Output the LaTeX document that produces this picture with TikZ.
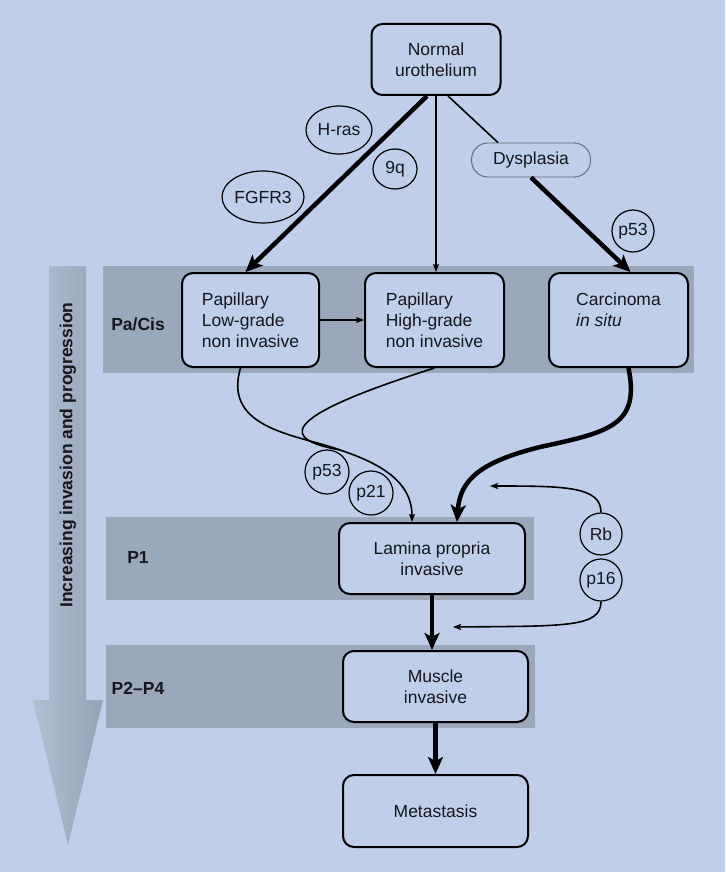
\documentclass[tikz,border=0pt]{standalone}
\usepackage{fontspec}
\setmainfont{Liberation Sans}
\usepackage{xcolor}
\definecolor{bgcolor}{RGB}{191,207,233}
\definecolor{bandcolor}{RGB}{155,168,185}
\definecolor{textcolor}{RGB}{22,22,28}
\definecolor{arrowlight}{RGB}{178,191,210}
\definecolor{arrowdark}{RGB}{150,163,181}
\definecolor{outlinegray}{RGB}{95,102,115}
\usetikzlibrary{arrows.meta,calc,shapes.geometric}

\begin{document}
\begin{tikzpicture}[x=1pt, y=-1pt,
  every node/.style={text=textcolor, font=\fontsize{17.5}{21}\selectfont},
  stage/.style={draw=black, line width=2pt, fill=bgcolor, rounded corners=11pt, align=left, inner sep=0pt},
  gene/.style={draw=black, line width=1.2pt, ellipse, inner sep=0pt},
  lbl/.style={font=\fontsize{17.5}{21}\selectfont\bfseries},
  thickarrow/.style={line width=4.5pt, -{Stealth[length=17pt, width=15pt, inset=4pt]}},
  thinarrow/.style={line width=1.6pt, -{Stealth[length=8pt, width=6pt, inset=1.5pt]}}]
  \fill[bgcolor] (0,0) rectangle (725,872);
  \useasboundingbox (0,0) rectangle (725,872);
  \fill[bandcolor] (103,266) rectangle (694,373);
  \fill[bandcolor] (106,517) rectangle (534,600);
  \fill[bandcolor] (106,645) rectangle (535,728);
  \shade[left color=arrowlight, right color=arrowdark] (49,266) -- (86,266) -- (86,700) -- (103,700) -- (68,845) -- (33,700) -- (49,700) -- cycle;
  \node[lbl, rotate=90] (axis) at (68,455) {Increasing invasion and progression};
  \node[lbl] (pacis) at (138,324) {Pa/Cis};
  \node[lbl] (pone) at (138,557) {P1};
  \node[lbl] (ptwo) at (138,688) {P2--P4};

  \node[stage, align=center, minimum width=129, minimum height=71] (normal) at (436,59.5) {Normal\\urothelium};
  \node[stage, minimum width=137, minimum height=94] (lg) at (250.5,320) {Papillary\\Low-grade\\non invasive};
  \node[stage, minimum width=139, minimum height=94] (hg) at (434.5,320) {Papillary\\High-grade\\non invasive};
  \node[stage, minimum width=139, minimum height=94] (cis) at (618.5,320) {Carcinoma\\\textit{in situ}\\\mbox{}};
  \node[stage, align=center, minimum width=186, minimum height=71] (lamina) at (432,558.5) {Lamina propria\\invasive};
  \node[stage, align=center, minimum width=185, minimum height=71] (muscle) at (435.5,686.5) {Muscle\\invasive};
  \node[stage, align=center, minimum width=185, minimum height=72] (meta) at (435.5,811) {Metastasis};
  \node[draw=outlinegray, line width=0.9pt, rounded corners=16.5pt, minimum width=119, minimum height=34, inner sep=0pt] (dys) at (531,160) {Dysplasia};

  \node[gene, minimum width=66, minimum height=48] (hras) at (339,130) {H-ras};
  \node[gene, minimum width=44, minimum height=40] (ninq) at (395,169) {9q};
  \node[gene, minimum width=82, minimum height=52] (fgfr) at (263,197) {FGFR3};
  \node[gene, minimum width=42, minimum height=42] (ptop) at (633,231) {p53};
  \node[gene, minimum width=44, minimum height=44] (pfift) at (327,472) {p53};
  \node[gene, minimum width=44, minimum height=44] (ptwentyone) at (371,493) {p21};
  \node[gene, minimum width=42, minimum height=42] (rb) at (601,534) {Rb};
  \node[gene, minimum width=42, minimum height=42] (psixteen) at (601,580) {p16};

  \draw[thickarrow] ($(normal.south)+(-9,0)$) -- ($(lg.north)+(-5,0)$);
  \draw[thinarrow] (normal.south) -- (normal.south |- hg.north);
  \draw[line width=1.6pt] ($(normal.south)+(12,0)$) -- ($(dys.north)+(-33,0)$);
  \draw[thickarrow] (dys.south) -- ($(cis.north)+(12,0)$);
  \draw[thinarrow] (lg.east) -- (hg.west);

  \coordinate (merge) at (340,450);
  \draw[line width=1.6pt] ($(lg.south)+(-10,0)$) .. controls (222,430) and (300,435) .. (merge);
  \draw[line width=1.6pt] (hg.south) .. controls (270,420) and (285,440) .. (merge);
  \draw[thinarrow] (merge) .. controls (395,468) and (412,490) .. ($(lamina.north)+(-20,0)$);
  \coordinate (bend) at (540,447);
  \draw[line width=4.5pt] ($(cis.south)+(10,0)$) .. controls (640,425) and (610,432) .. (bend);
  \draw[thickarrow] (bend) .. controls (480,462) and (460,480) .. ($(lamina.north)+(25,0)$);

  \coordinate (rbend) at (490,486);
  \coordinate (psend) at (453,627);
  \draw[thinarrow] (rb.north) .. controls ($(rb.north)+(0,-26)$) and (565,486) .. (rbend);
  \draw[thinarrow] (psixteen.south) .. controls ($(psixteen.south)+(0,26)$) and (565,626) .. (psend);

  \draw[thickarrow] (lamina.south) -- (lamina.south |- muscle.north);
  \draw[thickarrow] (muscle.south) -- (muscle.south |- meta.north);
\end{tikzpicture}
\end{document}
